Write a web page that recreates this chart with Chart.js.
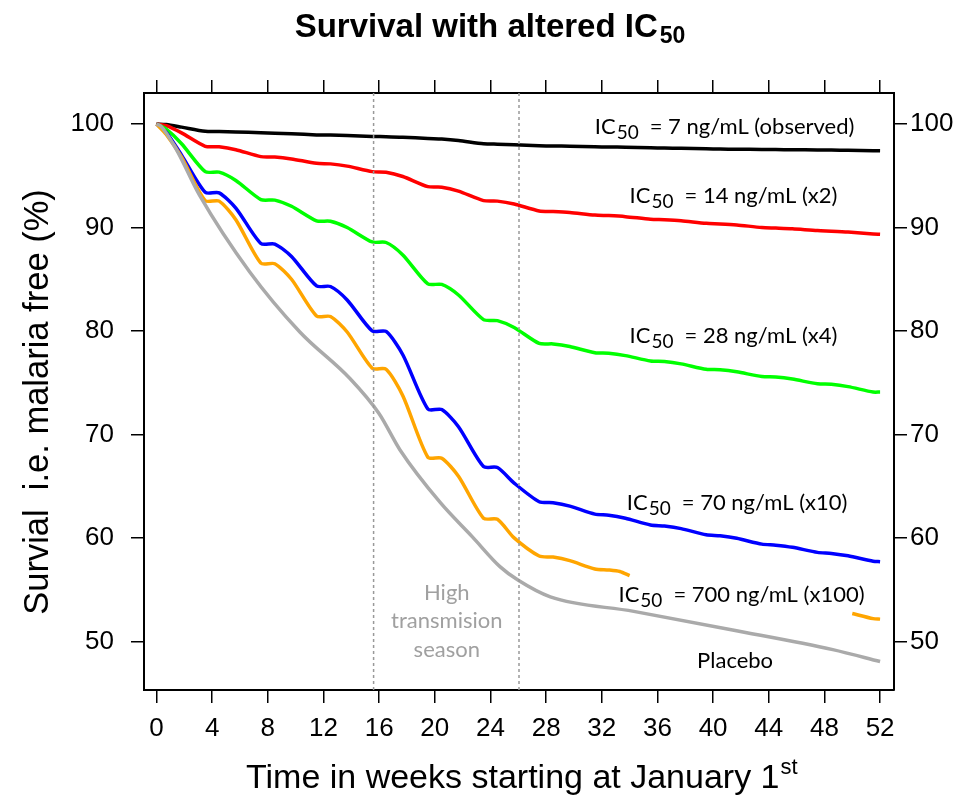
<!DOCTYPE html>
<html>
<head>
<meta charset="utf-8">
<script src="https://cdn.jsdelivr.net/npm/chart.js@4.4.1/dist/chart.umd.min.js"></script>
<style>
  body { margin: 0; background: #fff; }
  canvas { display: block; }
</style>
</head>
<body>
<canvas id="survivalChart" width="967" height="798"></canvas>
<script>
//Weeks where the stepped curves were read (plateau start/end and a bend point after each plateau)
const weeks = [0, 0.7, 1.8, 3.5, 4.5, 5.7, 7.5, 8.5, 9.7, 11.5, 12.5, 13.7, 15.5, 16.5, 17.7,
    19.5, 20.5, 21.7, 23.5, 24.5, 25.7, 27.5, 28.5, 29.7, 31.5, 32.5, 33.7, 35.5, 36.5, 37.7,
    39.5, 40.5, 41.7, 43.5, 44.5, 45.7, 47.5, 48.5, 49.7, 51.5, 52];

//Survival (%) per IC50 scenario
const ic7 = [100, 99.95, 99.7, 99.3, 99.28, 99.24, 99.15, 99.12, 99.07, 98.95, 98.93, 98.89, 98.8, 98.78, 98.73,
    98.6, 98.55, 98.41, 98.1, 98.05, 98.0, 97.9, 97.88, 97.86, 97.8, 97.78, 97.76, 97.7, 97.68, 97.66,
    97.6, 97.58, 97.57, 97.55, 97.53, 97.52, 97.5, 97.48, 97.46, 97.43, 97.42];
const ic14 = [100, 99.85, 99.15, 97.85, 97.8, 97.52, 96.85, 96.82, 96.63, 96.2, 96.15, 95.93, 95.4, 95.35, 94.93,
    93.95, 93.9, 93.51, 92.6, 92.55, 92.27, 91.6, 91.55, 91.45, 91.2, 91.15, 91.05, 90.8, 90.75, 90.65,
    90.4, 90.35, 90.25, 90.0, 89.95, 89.88, 89.7, 89.65, 89.57, 89.38, 89.35];
const ic28 = [100, 99.5, 98.1, 95.4, 95.35, 94.55, 92.7, 92.65, 92.05, 90.65, 90.6, 90.0, 88.6, 88.55, 87.35,
    84.55, 84.5, 83.48, 81.1, 81.0, 80.34, 78.8, 78.75, 78.5, 77.9, 77.85, 77.62, 77.1, 77.05, 76.82,
    76.3, 76.25, 76.05, 75.6, 75.55, 75.35, 74.9, 74.85, 74.62, 74.1, 74.1];
const ic70 = [100, 99.2, 97.0, 93.4, 93.35, 91.88, 88.45, 88.4, 87.2, 84.35, 84.3, 83.0, 80.0, 79.95, 77.7,
    72.45, 72.4, 70.75, 66.9, 66.8, 65.3, 63.5, 63.4, 63.07, 62.3, 62.2, 61.9, 61.25, 61.15, 60.9,
    60.3, 60.2, 59.96, 59.4, 59.3, 59.09, 58.6, 58.5, 58.27, 57.75, 57.7];

//x100 curve is only visible in two pieces
const ic700Weeks = [0, 0.7, 1.8, 3.5, 4.5, 5.7, 7.5, 8.5, 9.7, 11.5, 12.5, 13.7, 15.5, 16.5, 17.7,
    19.5, 20.5, 21.7, 23.5, 24.5, 25.7, 27.5, 28.5, 29.7, 31.5, 32.5, 33.3, 34, 42, 50, 51.5, 52];
const ic700 = [100, 99.0, 96.8, 92.6, 92.55, 90.75, 86.55, 86.5, 85.0, 81.45, 81.4, 79.9, 76.4, 76.3, 73.75,
    67.8, 67.7, 65.96, 61.9, 61.8, 60.0, 58.25, 58.15, 57.8, 57.0, 56.9, 56.75, 56.35, null, 52.7, 52.2, 52.15];

//Placebo curve is smooth
const placeboWeeks = [0, 0.3, 1.4, 3.1, 6.7, 10.3, 13.9, 16, 17.5, 20.4, 22.7, 24.7, 26, 28.3, 34.3, 41.4, 48.6, 52];
const placebo = [100, 99.8, 97.6, 93.1, 85.7, 79.9, 75.4, 72.0, 68.5, 63.4, 60.1, 57.2, 55.9, 54.3, 52.9, 51.1, 49.2, 48.05];

//High transmission season bounds (weeks)
const seasonBounds = [15.6, 26.05];

//Tick labels
const weekTicks = [0, 4, 8, 12, 16, 20, 24, 28, 32, 36, 40, 44, 48, 52];
const pctTicks = [50, 60, 70, 80, 90, 100];

//Axis limits
const xMin = -0.9, xMax = 53.0;
const yMin = 45.3, yMax = 103.0;

const axisFont = "'Liberation Sans', Arial, sans-serif";
const labelFont = "Lato, 'Noto Sans', sans-serif";

//Text labels next to the curves (left edge week, baseline %)
const curveLabels = [
    {rest: "= 7 ng/mL (observed)", week: 31.5, pct: 99.05},
    {rest: "= 14 ng/mL (x2)", week: 34.0, pct: 92.4},
    {rest: "= 28 ng/mL (x4)", week: 34.0, pct: 78.85},
    {rest: "= 70 ng/mL (x10)", week: 33.8, pct: 62.7},
    {rest: "= 700 ng/mL (x100)", week: 33.2, pct: 53.8}
];

function toPoints(xs, ys) {
    return xs.map((x, i) => ({x: x, y: ys[i]}));
}

function curve(label, xs, ys, color, smooth) {
    return {
        label: label,
        data: toPoints(xs, ys),
        borderColor: color,
        borderWidth: 3.5,
        pointRadius: 0,
        borderJoinStyle: "round",
        cubicInterpolationMode: smooth ? "monotone" : "default",
        tension: smooth ? 0 : 0.25, //rounded corners on the stepped curves
        spanGaps: false
    };
}

function seasonLine(week) {
    return {
        label: "season",
        data: [{x: week, y: yMin}, {x: week, y: yMax}],
        borderColor: "#999999",
        borderWidth: 1.5,
        borderDash: [3, 3],
        pointRadius: 0
    };
}

//Draw "IC50 = ..." with subscript
function drawIC(ctx, x, y, rest) {
    ctx.font = "22px " + labelFont;
    ctx.fillText("IC", x, y);
    const w1 = ctx.measureText("IC").width;
    ctx.font = "19px " + labelFont;
    ctx.fillText("50", x + w1 + 1, y + 5);
    const w2 = ctx.measureText("50").width;
    ctx.font = "22px " + labelFont;
    ctx.fillText(rest, x + w1 + 1 + w2 + 11, y);
}

const textPlugin = {
    id: "textPlugin",
    afterDraw(chart) {
        const ctx = chart.ctx;
        const xs = chart.scales.x;
        const ys = chart.scales.y;
        ctx.save();
        ctx.textBaseline = "alphabetic";
        ctx.textAlign = "left";
        ctx.fillStyle = "#000";

        //Title
        ctx.font = "bold 33px " + axisFont;
        const t1 = "Survival with altered IC";
        const tw = ctx.measureText(t1).width;
        ctx.font = "bold 23px " + axisFont;
        const sw = ctx.measureText("50").width;
        const tx = 490 - (tw + sw + 2) / 2;
        ctx.font = "bold 33px " + axisFont;
        ctx.fillText(t1, tx, 37);
        ctx.font = "bold 23px " + axisFont;
        ctx.fillText("50", tx + tw + 2, 43);

        //X title with superscript
        ctx.font = "34px " + axisFont;
        const xt = "Time in weeks starting at January 1";
        ctx.fillText(xt, 246, 788);
        const xw = ctx.measureText(xt).width;
        ctx.font = "22px " + axisFont;
        ctx.fillText("st", 246 + xw + 1, 774);

        //Y title
        ctx.save();
        ctx.translate(48, 402);
        ctx.rotate(-Math.PI / 2);
        ctx.font = "34.5px " + axisFont;
        ctx.textAlign = "center";
        ctx.fillText("Survial  i.e. malaria free (%)", 0, 0);
        ctx.restore();

        //Curve labels
        curveLabels.forEach(l => {
            drawIC(ctx, xs.getPixelForValue(l.week), ys.getPixelForValue(l.pct), l.rest);
        });
        ctx.font = "22px " + labelFont;
        ctx.fillText("Placebo", xs.getPixelForValue(38.85), ys.getPixelForValue(47.4));

        //Season text
        ctx.fillStyle = "#a0a0a0";
        ctx.textAlign = "center";
        const cx = xs.getPixelForValue(20.86);
        ctx.fillText("High", cx, ys.getPixelForValue(54.0));
        ctx.fillText("transmision", cx, ys.getPixelForValue(51.3));
        ctx.fillText("season", cx, ys.getPixelForValue(48.5));
        ctx.restore();
    }
};

const gridOpts = {
    drawOnChartArea: false,
    drawTicks: true,
    tickLength: 13,
    tickColor: "#000",
    lineWidth: 1.5
};
const borderOpts = {display: true, color: "#000", width: 2};
const tickFont = {family: axisFont, size: 26};

new Chart(document.getElementById("survivalChart").getContext("2d"), {
    type: "line",
    data: {
        datasets: [
            seasonLine(seasonBounds[0]),
            seasonLine(seasonBounds[1]),
            curve("Placebo", placeboWeeks, placebo, "#aaaaaa", true),
            curve("IC50 = 700 ng/mL (x100)", ic700Weeks, ic700, "#ffa500", false),
            curve("IC50 = 70 ng/mL (x10)", weeks, ic70, "#0000ff", false),
            curve("IC50 = 28 ng/mL (x4)", weeks, ic28, "#00ff00", false),
            curve("IC50 = 14 ng/mL (x2)", weeks, ic14, "#ff0000", false),
            curve("IC50 = 7 ng/mL (observed)", weeks, ic7, "#000000", false)
        ]
    },
    options: {
        responsive: false,
        devicePixelRatio: 1,
        animation: false,
        layout: {padding: 0},
        plugins: {legend: {display: false}, tooltip: {enabled: false}, title: {display: false}},
        scales: {
            x: {
                type: "linear", position: "bottom", min: xMin, max: xMax,
                afterBuildTicks: s => { s.ticks = weekTicks.map(v => ({value: v})); },
                afterFit: s => { s.height = 108; },
                ticks: {font: tickFont, color: "#000", padding: 10, maxRotation: 0, autoSkip: false},
                grid: gridOpts, border: borderOpts
            },
            xTop: {
                type: "linear", position: "top", min: xMin, max: xMax,
                afterBuildTicks: s => { s.ticks = weekTicks.map(v => ({value: v})); },
                afterFit: s => { s.height = 93; },
                ticks: {display: false},
                grid: gridOpts, border: borderOpts
            },
            y: {
                type: "linear", position: "left", min: yMin, max: yMax,
                afterBuildTicks: s => { s.ticks = pctTicks.map(v => ({value: v})); },
                afterFit: s => { s.width = 144; },
                ticks: {font: tickFont, color: "#000", padding: 17},
                grid: gridOpts, border: borderOpts
            },
            yRight: {
                type: "linear", position: "right", min: yMin, max: yMax,
                afterBuildTicks: s => { s.ticks = pctTicks.map(v => ({value: v})); },
                afterFit: s => { s.width = 73; },
                ticks: {font: tickFont, color: "#000", padding: 3},
                grid: gridOpts, border: borderOpts
            }
        }
    },
    plugins: [textPlugin]
});
</script>
</body>
</html>
